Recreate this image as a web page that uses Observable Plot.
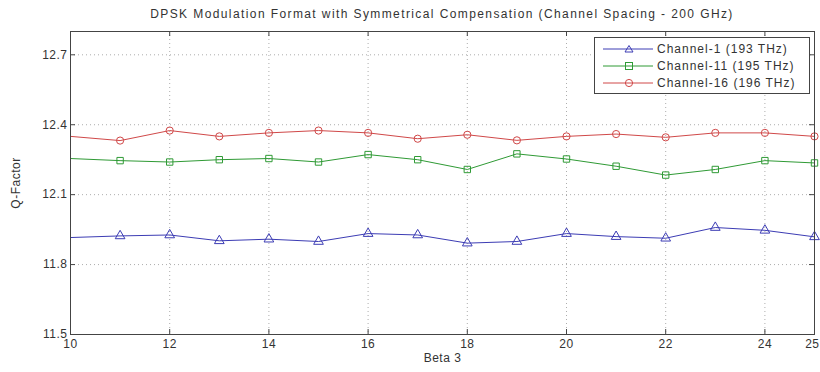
<!DOCTYPE html>
<html>
<head>
<meta charset="utf-8">
<script src="https://cdn.jsdelivr.net/npm/d3@7"></script>
<script src="https://cdn.jsdelivr.net/npm/@observablehq/plot@0.6"></script>
<style>
  body { margin: 0; background: #fff; font-family: "Liberation Sans", Arial, sans-serif; }
  #wrap { position: relative; width: 820px; height: 372px; overflow: hidden; }
  #title { height: 24px; line-height: 28px; text-align: center; font-size: 12px; letter-spacing: 1.4px; color: #333; padding-left: 64px; box-sizing: border-box; white-space: nowrap; }
  #legend { position: absolute; left: 594px; top: 37px; width: 214px; height: 55px; border: 1px solid #444; background: #fff; font-size: 12px; letter-spacing: 1px; color: #333; }
  .row { position: absolute; left: 0; height: 16px; display: flex; align-items: center; white-space: nowrap; }
  .row svg { margin-left: 8px; margin-right: 4px; }
</style>
</head>
<body>
<div id="wrap">
  <div id="title"></div>
  <div id="chart"></div>
  <div id="legend"></div>
</div>
<script>
const title = "DPSK Modulation Format with Symmetrical Compensation (Channel Spacing - 200 GHz)";
const xLabel = "Beta 3";
const yLabel = "Q-Factor";
const beta = [10, 11, 12, 13, 14, 15, 16, 17, 18, 19, 20, 21, 22, 23, 24, 25];
const ch1  = [11.916, 11.923, 11.927, 11.902, 11.909, 11.899, 11.933, 11.927, 11.892, 11.899, 11.933, 11.920, 11.913, 11.959, 11.947, 11.919];
const ch11 = [12.255, 12.246, 12.240, 12.250, 12.255, 12.240, 12.272, 12.250, 12.208, 12.275, 12.253, 12.222, 12.184, 12.208, 12.246, 12.236];
const ch16 = [12.350, 12.332, 12.375, 12.350, 12.365, 12.375, 12.365, 12.340, 12.357, 12.333, 12.350, 12.360, 12.346, 12.365, 12.365, 12.350];
const seriesNames = ["Channel-1 (193 THz)", "Channel-11 (195 THz)", "Channel-16 (196 THz)"];
const seriesColors = ["#3c3cb4", "#2f9a35", "#d04848"];
const seriesSymbols = ["triangle", "square", "circle"];
const xTicks = [10, 12, 14, 16, 18, 20, 22, 24, 25];
const yTicks = [11.5, 11.8, 12.1, 12.4, 12.7];
const xDomain = [10, 25];
const yDomain = [11.5, 12.8];

document.getElementById("title").textContent = title;

const allSeries = [ch1, ch11, ch16];
const rows = [];
allSeries.forEach((vals, s) => vals.forEach((v, i) => rows.push({x: beta[i], y: v, s: seriesNames[s]})));

const W = 820, H = 348;
const mt = 7, mb = 38, ml = 70, mr = 6;
const ih = H - mt - mb, iw = W - ml - mr;
const tk = 5;

const innerTicks = xTicks.filter(t => t < xDomain[1]);
const lastTick = xTicks.filter(t => t >= xDomain[1]);

const chart = Plot.plot({
  width: W, height: H,
  marginTop: mt, marginBottom: mb, marginLeft: ml, marginRight: mr,
  style: {fontFamily: "Liberation Sans, Arial, sans-serif", fontSize: "12px", letterSpacing: "0.5px", color: "#333", background: "#fff"},
  x: {domain: xDomain},
  y: {domain: yDomain},
  color: {domain: seriesNames, range: seriesColors},
  symbol: {domain: seriesNames, range: seriesSymbols},
  marks: [
    Plot.gridX(xTicks.filter(t => t > xDomain[0] && t < xDomain[1]), {stroke: "#777", strokeOpacity: 0.6, strokeDasharray: "1,3"}),
    Plot.gridY(yTicks.filter(t => t > yDomain[0]), {stroke: "#777", strokeOpacity: 0.6, strokeDasharray: "1,3"}),
    Plot.tickX(xTicks, {x: d => d, insetTop: ih - tk, stroke: "#444"}),
    Plot.tickX(xTicks, {x: d => d, insetBottom: ih - tk, stroke: "#444"}),
    Plot.tickY(yTicks, {y: d => d, insetRight: iw - tk, stroke: "#444"}),
    Plot.tickY(yTicks, {y: d => d, insetLeft: iw - tk, stroke: "#444"}),
    Plot.line(rows, {x: "x", y: "y", z: "s", stroke: "s", strokeWidth: 1}),
    Plot.dot(rows.filter(d => d.x > xDomain[0]), {x: "x", y: "y", stroke: "s", symbol: "s", r: 3.6, fill: "none", strokeWidth: 1}),
    Plot.frame({stroke: "#444"}),
    Plot.axisX({ticks: innerTicks, tickSize: 0, tickPadding: 5, label: xLabel, labelAnchor: "center", labelArrow: "none", labelOffset: 27, tickFormat: d => String(d)}),
    Plot.axisX({ticks: lastTick, tickSize: 0, tickPadding: 5, label: null, textAnchor: "end", dx: 5, tickFormat: d => String(d)}),
    Plot.axisY({ticks: yTicks, tickSize: 0, tickPadding: 3, label: yLabel, labelAnchor: "center", labelArrow: "none", labelOffset: 59, tickFormat: d => d.toFixed(1)})
  ]
});
document.getElementById("chart").appendChild(chart);

const legend = document.getElementById("legend");
seriesNames.forEach((name, i) => {
  const row = document.createElement("div");
  row.className = "row";
  row.style.top = (3 + i * 17) + "px";
  const sym = seriesSymbols[i];
  const c = seriesColors[i];
  let mk = "";
  if (sym === "triangle") mk = `<polygon points="26,3.5 30,10 22,10" fill="none" stroke="${c}"/>`;
  else if (sym === "square") mk = `<rect x="22.5" y="3.5" width="7" height="7" fill="none" stroke="${c}"/>`;
  else mk = `<circle cx="26" cy="7" r="3.6" fill="none" stroke="${c}"/>`;
  row.innerHTML = `<svg width="50" height="14"><line x1="0" y1="7" x2="50" y2="7" stroke="${c}"/>${mk}</svg><span>${name}</span>`;
  legend.appendChild(row);
});
</script>
</body>
</html>
